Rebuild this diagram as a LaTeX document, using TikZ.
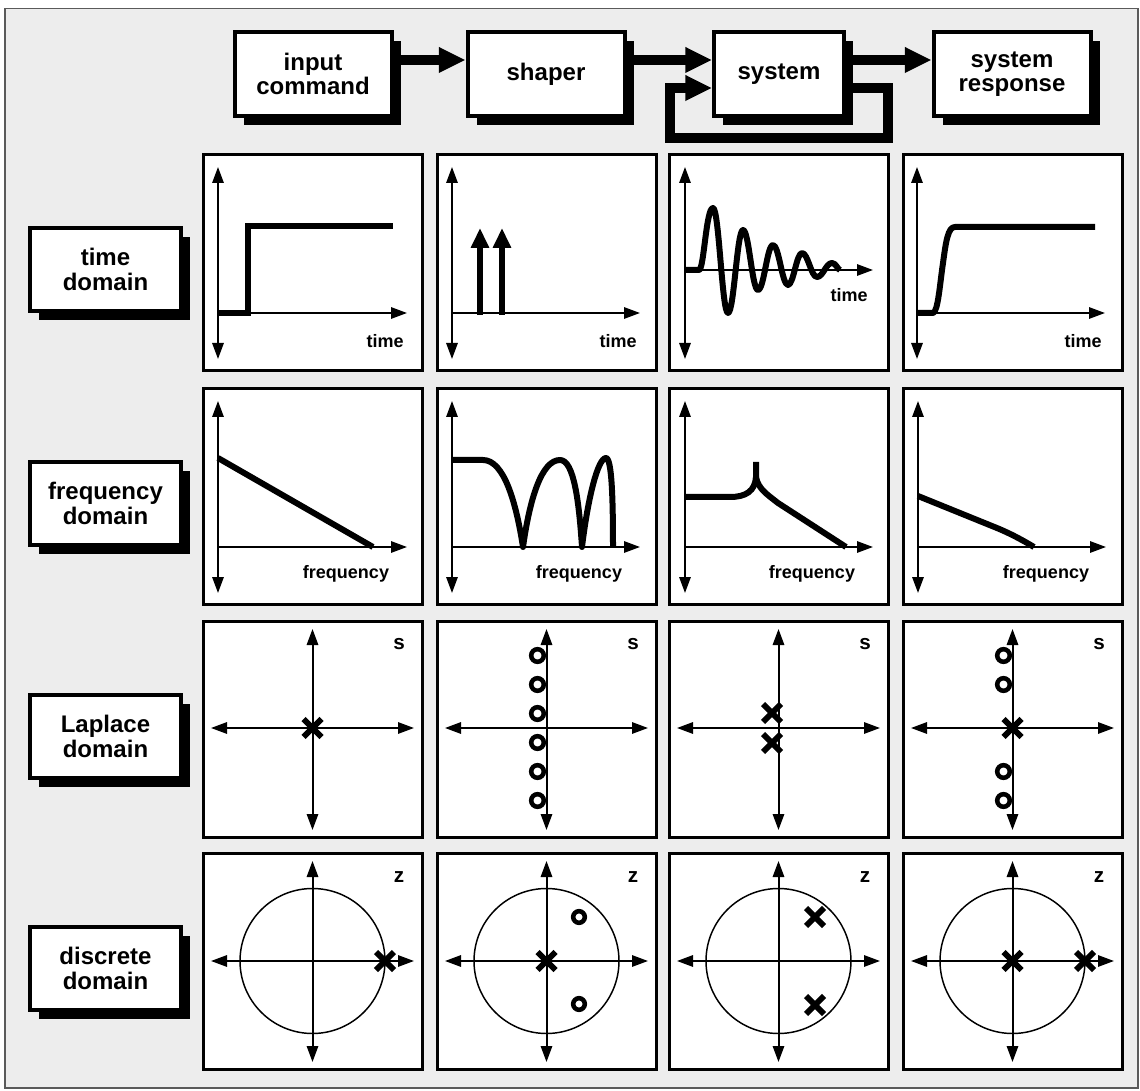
\documentclass[tikz,border=0pt]{standalone}
\usepackage{fontspec}
\setmainfont{Liberation Sans}
\usetikzlibrary{arrows.meta,shadows}
\definecolor{bg}{RGB}{237,237,237}
\definecolor{frm}{RGB}{90,90,90}
\begin{document}
\begin{tikzpicture}[x=0.75pt,y=-0.75pt,
  blk/.style={draw, line width=3pt, fill=white, align=center,
    font=\bfseries\fontsize{18}{18.5}\selectfont, minimum height=63pt, inner sep=0pt,
    drop shadow={shadow xshift=7pt,shadow yshift=-7pt,fill=black,opacity=1}},
  panel/.style={draw, line width=2.6pt, fill=white, minimum width=163.9pt,
    minimum height=161.65pt, inner sep=0pt},
  axd/.style={line width=1.5pt, {Triangle[length=12pt,width=8.5pt]}-{Triangle[length=12pt,width=8.5pt]}},
  axr/.style={line width=1.5pt, -{Triangle[length=12pt,width=8.5pt]}},
  crv/.style={line width=4.5pt, line join=round},
  stepl/.style={line width=4.5pt, line join=miter},
  imp/.style={line width=4.5pt, -{Triangle[length=15pt,width=13pt]}},
  mk/.style={line width=4.3pt},
  mko/.style={line width=3.4pt},
  big/.style={line width=7.5pt, line join=miter, -{Triangle[length=20pt,width=18pt]}},
  lbl/.style={font=\bfseries\fontsize{13.5}{14}\selectfont, inner sep=0pt},
  szl/.style={font=\bfseries\fontsize{15.5}{15.5}\selectfont, inner sep=0pt},
  unit/.style={line width=1.1pt}
]
\useasboundingbox (0,0) rectangle (1140,1091);
\fill[white] (0,0) rectangle (1140,1091);
\draw[frm, fill=bg, line width=0.8pt] (5,8.5) rectangle (1138,1088);

% top row blocks
\node[blk, minimum width=117.75pt] (ic) at (313,74) {input\\command};
\node[blk, minimum width=117.75pt] (sh) at (546,74) {shaper};
\node[blk, minimum width=97.5pt] (sys) at (779,74) {system};
\node[blk, minimum width=117.75pt] (sr) at (1012,74) {system\\response};
\coordinate (fbr) at (888,138);
\coordinate (fbl) at (670,138);
\draw[big] ([yshift=10.5pt]ic.east) -- ([yshift=10.5pt]sh.west);
\draw[big] ([yshift=10.5pt]sh.east) -- ([yshift=10.5pt]sys.west);
\draw[big] ([yshift=10.5pt]sys.east) -- ([yshift=10.5pt]sr.west);
\draw[big] ([yshift=-10.5pt]sys.east) -| (fbr) -- (fbl) |- ([yshift=-10.5pt]sys.west);

% left labels
\node[blk, minimum width=113.25pt, minimum height=62.25pt] (ltd) at (105.5,269.5) {time\\domain};
\node[blk, minimum width=113.25pt, minimum height=62.25pt] (lfd) at (105.5,503.5) {frequency\\domain};
\node[blk, minimum width=113.25pt, minimum height=62.25pt] (lld) at (105.5,736.5) {Laplace\\domain};
\node[blk, minimum width=113.25pt, minimum height=62.25pt] (ldd) at (105.5,968.5) {discrete\\domain};

% panels
\foreach \c/\cx in {1/313,2/547,3/779,4/1013}{
  \foreach \r/\ry in {1/262.5,2/496.5,3/729.5,4/961.5}{
    \node[panel] (p\r\c) at (\cx,\ry) {};
  }
}

% ---- time domain ----
\begin{scope}[shift={(p11.north west)}]
  \draw[axd] (16,14) -- (16,206);
  \draw[axr] (16,160) -- (205,160);
  \draw[stepl] (16,160) -- (46,160) -- (46,73) -- (191,73);
  \node[lbl, anchor=east] (t1) at (202,188) {time};
\end{scope}
\begin{scope}[shift={(p12.north west)}]
  \draw[axd] (16,14) -- (16,206);
  \draw[axr] (16,160) -- (204,160);
  \draw[imp] (44,162) -- (44,75);
  \draw[imp] (66,162) -- (66,75);
  \node[lbl, anchor=east] (t2) at (201,188) {time};
\end{scope}
\begin{scope}[shift={(p13.north west)}]
  \draw[axd] (17,14) -- (17,206);
  \draw[axr] (17,117) -- (205,117);
  \draw[crv] (17,117) -- (31,117) .. controls (36,117) and (38,55) .. (45,55)
    .. controls (51,55) and (54,160) .. (60,160)
    .. controls (66,160) and (69,77) .. (75,77)
    .. controls (81,77) and (84,137) .. (90,137)
    .. controls (96,137) and (99,92) .. (105,92)
    .. controls (111,92) and (114,132) .. (120,132)
    .. controls (125.5,132) and (128.5,100) .. (134,100)
    .. controls (140,100) and (143,124) .. (149,124)
    .. controls (155,124) and (158,110) .. (164,110)
    .. controls (168,110) and (170,117) .. (172,117);
  \node[lbl, anchor=east] (t3) at (200,142) {time};
\end{scope}
\begin{scope}[shift={(p14.north west)}]
  \draw[axd] (15,14) -- (15,206);
  \draw[axr] (15,160) -- (203,160);
  \draw[crv] (15,160) -- (31,160) .. controls (36,159) and (38,130) .. (41,110)
    .. controls (44,88) and (46,74) .. (53,74) -- (193,74);
  \node[lbl, anchor=east] (t4) at (200,188) {time};
\end{scope}

% ---- frequency domain ----
\begin{scope}[shift={(p21.north west)}]
  \draw[axd] (16,14) -- (16,206);
  \draw[axr] (16,160) -- (205,160);
  \draw[crv] (16,71) -- (171,160);
  \node[lbl] (f1) at (144,187) {frequency};
\end{scope}
\begin{scope}[shift={(p22.north west)}]
  \draw[axd] (16,14) -- (16,206);
  \draw[axr] (16,160) -- (204,160);
  \draw[crv] (16,73) -- (47,73) .. controls (68,73) and (80,115) .. (87,160)
    .. controls (94,110) and (106,73) .. (124,73)
    .. controls (138,73) and (143,115) .. (146,160)
    .. controls (152,110) and (162,71) .. (170,71)
    .. controls (176,71) and (177,115) .. (177,160);
  \node[lbl] (f2) at (143,187) {frequency};
\end{scope}
\begin{scope}[shift={(p23.north west)}]
  \draw[axd] (17,14) -- (17,206);
  \draw[axr] (17,160) -- (205,160);
  \draw[crv] (17,110) -- (62,110) .. controls (78,110) and (87,104) .. (88,90) -- (88,75);
  \draw[crv] (88,90) .. controls (90,102) and (100,108) .. (110,116) -- (178,160);
  \node[lbl] (f3) at (144,187) {frequency};
\end{scope}
\begin{scope}[shift={(p24.north west)}]
  \draw[axd] (16,14) -- (16,206);
  \draw[axr] (16,160) -- (204,160);
  \draw[crv] (16,109) -- (90,139) .. controls (100,143) and (112,148) .. (132,160);
  \node[lbl] (f4) at (144,187) {frequency};
\end{scope}

% ---- Laplace domain ----
\begin{scope}[shift={(p31.north west)}]
  \draw[axd] (110.5,9) -- (110.5,210);
  \draw[axd] (9,108) -- (212,108);
  \draw[mk] (110.5,108) +(-9,-9) -- +(9,9) +(-9,9) -- +(9,-9);
  \node[szl] (s1) at (197,24) {s};
\end{scope}
\begin{scope}[shift={(p32.north west)}]
  \draw[axd] (110.5,9) -- (110.5,210);
  \draw[axd] (9,108) -- (212,108);
  \foreach \yy in {35.5,64.5,93.5,122.5,151.5,180.5}{\draw[mko] (101.5,\yy) circle[radius=6.3];}
  \node[szl] (s2) at (197,24) {s};
\end{scope}
\begin{scope}[shift={(p33.north west)}]
  \draw[axd] (110.5,9) -- (110.5,210);
  \draw[axd] (9,108) -- (212,108);
  \draw[mk] (104,93) +(-9,-9) -- +(9,9) +(-9,9) -- +(9,-9);
  \draw[mk] (104,123) +(-9,-9) -- +(9,9) +(-9,9) -- +(9,-9);
  \node[szl] (s3) at (197,24) {s};
\end{scope}
\begin{scope}[shift={(p34.north west)}]
  \draw[axd] (110.5,9) -- (110.5,210);
  \draw[axd] (9,108) -- (212,108);
  \foreach \yy in {35.5,64.5,151.5,180.5}{\draw[mko] (101.5,\yy) circle[radius=6.3];}
  \draw[mk] (110.5,108) +(-9,-9) -- +(9,9) +(-9,9) -- +(9,-9);
  \node[szl] (s4) at (197,24) {s};
\end{scope}

% ---- discrete domain ----
\begin{scope}[shift={(p41.north west)}]
  \draw[unit] (110.5,109) circle[radius=72.5];
  \draw[axd] (110.5,9) -- (110.5,210);
  \draw[axd] (9,109) -- (212,109);
  \draw[mk] (183,109) +(-9,-9) -- +(9,9) +(-9,9) -- +(9,-9);
  \node[szl] (z1) at (197,25) {z};
\end{scope}
\begin{scope}[shift={(p42.north west)}]
  \draw[unit] (110.5,109) circle[radius=72.5];
  \draw[axd] (110.5,9) -- (110.5,210);
  \draw[axd] (9,109) -- (212,109);
  \draw[mk] (110.5,109) +(-9,-9) -- +(9,9) +(-9,9) -- +(9,-9);
  \draw[mko] (143,65) circle[radius=5.8];
  \draw[mko] (143,152) circle[radius=5.8];
  \node[szl] (z2) at (197,25) {z};
\end{scope}
\begin{scope}[shift={(p43.north west)}]
  \draw[unit] (110.5,109) circle[radius=72.5];
  \draw[axd] (110.5,9) -- (110.5,210);
  \draw[axd] (9,109) -- (212,109);
  \draw[mk] (147,65) +(-9,-9) -- +(9,9) +(-9,9) -- +(9,-9);
  \draw[mk] (147,153) +(-9,-9) -- +(9,9) +(-9,9) -- +(9,-9);
  \node[szl] (z3) at (197,25) {z};
\end{scope}
\begin{scope}[shift={(p44.north west)}]
  \draw[unit] (110.5,109) circle[radius=72.5];
  \draw[axd] (110.5,9) -- (110.5,210);
  \draw[axd] (9,109) -- (212,109);
  \draw[mk] (110.5,109) +(-9,-9) -- +(9,9) +(-9,9) -- +(9,-9);
  \draw[mk] (183,109) +(-9,-9) -- +(9,9) +(-9,9) -- +(9,-9);
  \node[szl] (z4) at (197,25) {z};
\end{scope}
\end{tikzpicture}
\end{document}
